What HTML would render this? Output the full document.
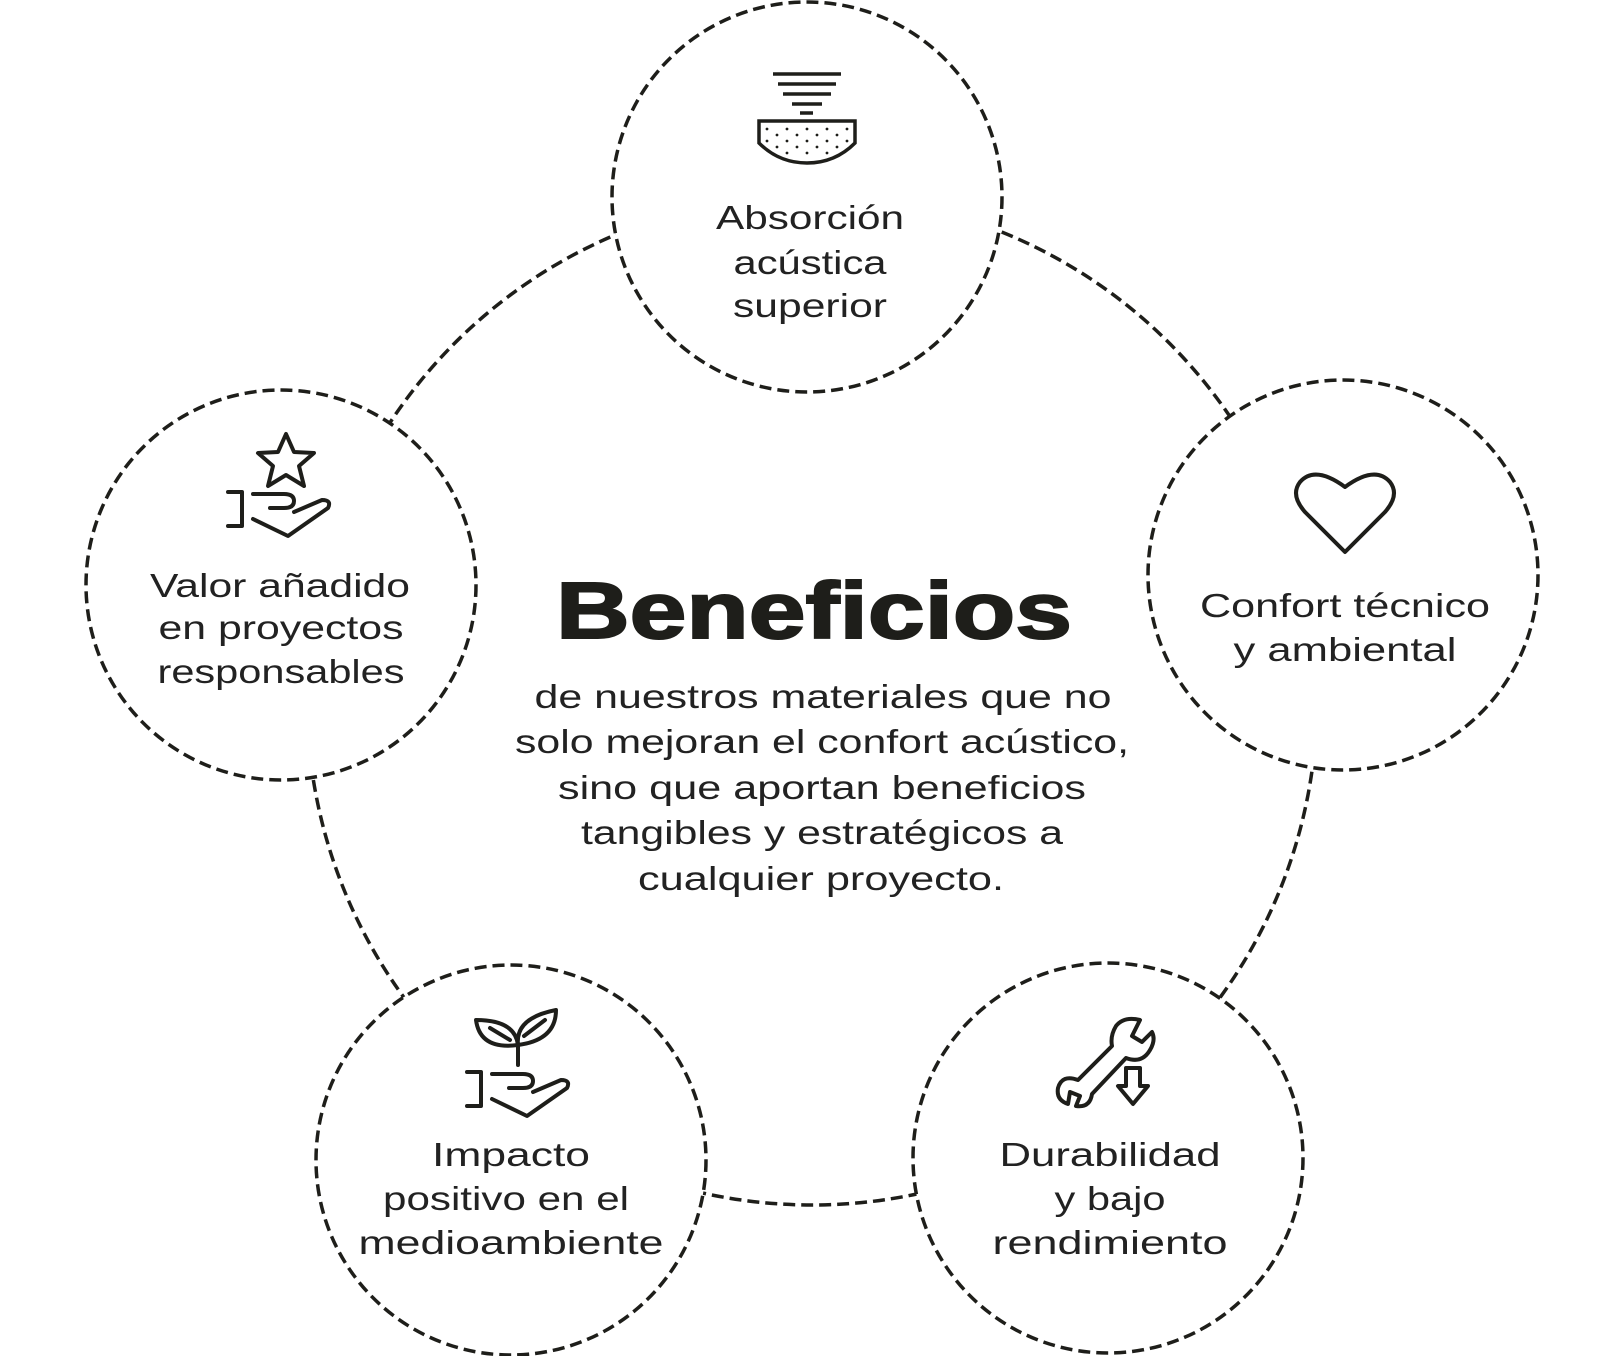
<!DOCTYPE html>
<html><head><meta charset="utf-8"><style>
html,body{margin:0;padding:0;background:#fff;}
svg{display:block;}
text{font-family:"Liberation Sans",sans-serif;fill:#222;}
</style></head><body>
<svg width="1622" height="1356" viewBox="0 0 1622 1356" xmlns="http://www.w3.org/2000/svg">
<g fill="none" stroke="#1e1e1a" stroke-width="3.5" stroke-dasharray="12 6">
<circle cx="812" cy="700" r="505"/>
</g>
<g fill="#fff" stroke="#1e1e1a" stroke-width="3.5" stroke-dasharray="12 6">
<circle cx="807" cy="197" r="195"/>
<circle cx="281" cy="585" r="195"/>
<circle cx="1343" cy="575" r="195"/>
<circle cx="511" cy="1160" r="195"/>
<circle cx="1108" cy="1158" r="195"/>
</g>

<!-- top icon -->
<g stroke="#1e1e1a" stroke-width="3.5" fill="none" stroke-linecap="butt">
<line x1="773" y1="74" x2="841" y2="74"/>
<line x1="778" y1="84" x2="836" y2="84"/>
<line x1="783" y1="94" x2="831" y2="94"/>
<line x1="792" y1="104" x2="822" y2="104"/>
<line x1="800" y1="113" x2="813" y2="113"/>
<path d="M759 121 H855 V143 Q835 163 807 163 Q779 163 759 143 Z"/>
</g>
<g fill="#1e1e1a">
<circle cx="767" cy="129" r="1.4"/><circle cx="787" cy="129" r="1.4"/><circle cx="807" cy="129" r="1.4"/><circle cx="827" cy="129" r="1.4"/><circle cx="847" cy="129" r="1.4"/>
<circle cx="777" cy="135" r="1.4"/><circle cx="797" cy="135" r="1.4"/><circle cx="817" cy="135" r="1.4"/><circle cx="837" cy="135" r="1.4"/>
<circle cx="767" cy="141" r="1.4"/><circle cx="787" cy="141" r="1.4"/><circle cx="807" cy="141" r="1.4"/><circle cx="827" cy="141" r="1.4"/><circle cx="847" cy="141" r="1.4"/>
<circle cx="777" cy="147" r="1.4"/><circle cx="797" cy="147" r="1.4"/><circle cx="817" cy="147" r="1.4"/><circle cx="837" cy="147" r="1.4"/>
<circle cx="787" cy="153" r="1.4"/><circle cx="807" cy="153" r="1.4"/><circle cx="827" cy="153" r="1.4"/>
</g>

<!-- heart -->
<path d="M1345 552 L1305 512 Q1290 495 1300 482 Q1315 465 1345 487 Q1375 465 1390 482 Q1400 495 1385 512 Z" fill="none" stroke="#1e1e1a" stroke-width="4" stroke-linejoin="round"/>

<!-- star hand -->
<g fill="none" stroke="#1e1e1a" stroke-width="4" stroke-linejoin="round" stroke-linecap="round">
<path d="M286 434 L294 452 L314 453 L299 466 L304 486 L286 475 L268 486 L273 466 L258 453 L278 452 Z"/>
<g transform="translate(228,490)">
<path d="M0 2 H14 V36 H0"/>
<path d="M25 4 H56 Q66 4 66 11 Q66 18 56 18 H42"/>
<path d="M25 29 L60 46 L100 18 Q104 10 94 10 L66 22"/>
</g>
</g>

<!-- plant hand -->
<g fill="none" stroke="#1e1e1a" stroke-width="4" stroke-linejoin="round" stroke-linecap="round">
<path d="M518 1065 V1045"/>
<path d="M518 1045 Q515 1020 476 1020 Q480 1050 518 1045 Z"/>
<path d="M518 1045 Q515 1018 556 1010 Q556 1040 518 1045 Z"/>
<path d="M490 1028 L510 1040"/>
<path d="M524 1036 L545 1020"/>
<g transform="translate(467,1070)">
<path d="M0 2 H14 V36 H0"/>
<path d="M25 4 H56 Q66 4 66 11 Q66 18 56 18 H42"/>
<path d="M25 29 L60 46 L100 18 Q104 10 94 10 L66 22"/>
</g>
</g>

<!-- wrench -->
<g fill="none" stroke="#1e1e1a" stroke-width="4" stroke-linejoin="round">
<path d="M1112 1046 L1078 1080 Q1062 1074 1058 1088 Q1056 1100 1068 1104 L1070 1092 L1080 1096 L1076 1106 Q1090 1108 1092 1094 L1126 1058 Q1142 1064 1150 1050 Q1156 1040 1152 1032 L1142 1042 L1132 1036 L1140 1020 Q1124 1016 1116 1026 Q1110 1036 1112 1046 Z"/>
<path d="M1126 1068 H1140 V1086 H1148 L1133 1104 L1118 1086 H1126 Z"/>
</g>

<!-- center text -->
<text x="814" y="638" font-size="80" font-weight="900" text-anchor="middle" textLength="516" lengthAdjust="spacingAndGlyphs" style="fill:#1e1e1a;stroke:#1e1e1a;stroke-width:2">Beneficios</text>
<g font-size="33" text-anchor="middle">
<text x="823" y="708" textLength="577" lengthAdjust="spacingAndGlyphs">de nuestros materiales que no</text>
<text x="822" y="753" textLength="614" lengthAdjust="spacingAndGlyphs">solo mejoran el confort acústico,</text>
<text x="822" y="799" textLength="528" lengthAdjust="spacingAndGlyphs">sino que aportan beneficios</text>
<text x="822" y="844" textLength="482" lengthAdjust="spacingAndGlyphs">tangibles y estratégicos a</text>
<text x="821" y="890" textLength="366" lengthAdjust="spacingAndGlyphs">cualquier proyecto.</text>
</g>

<g font-size="33" text-anchor="middle">
<text x="810" y="229" textLength="188" lengthAdjust="spacingAndGlyphs">Absorción</text>
<text x="810" y="274" textLength="153" lengthAdjust="spacingAndGlyphs">acústica</text>
<text x="810" y="317" textLength="154" lengthAdjust="spacingAndGlyphs">superior</text>

<text x="280" y="597" textLength="260" lengthAdjust="spacingAndGlyphs">Valor añadido</text>
<text x="281" y="639" textLength="245" lengthAdjust="spacingAndGlyphs">en proyectos</text>
<text x="281" y="683" textLength="247" lengthAdjust="spacingAndGlyphs">responsables</text>

<text x="1345" y="617" textLength="290" lengthAdjust="spacingAndGlyphs">Confort técnico</text>
<text x="1345" y="661" textLength="223" lengthAdjust="spacingAndGlyphs">y ambiental</text>

<text x="511" y="1166" textLength="158" lengthAdjust="spacingAndGlyphs">Impacto</text>
<text x="506" y="1210" textLength="246" lengthAdjust="spacingAndGlyphs">positivo en el</text>
<text x="511" y="1254" textLength="305" lengthAdjust="spacingAndGlyphs">medioambiente</text>

<text x="1110" y="1166" textLength="221" lengthAdjust="spacingAndGlyphs">Durabilidad</text>
<text x="1110" y="1210" textLength="111" lengthAdjust="spacingAndGlyphs">y bajo</text>
<text x="1110" y="1254" textLength="235" lengthAdjust="spacingAndGlyphs">rendimiento</text>
</g>
</svg>
</body></html>
